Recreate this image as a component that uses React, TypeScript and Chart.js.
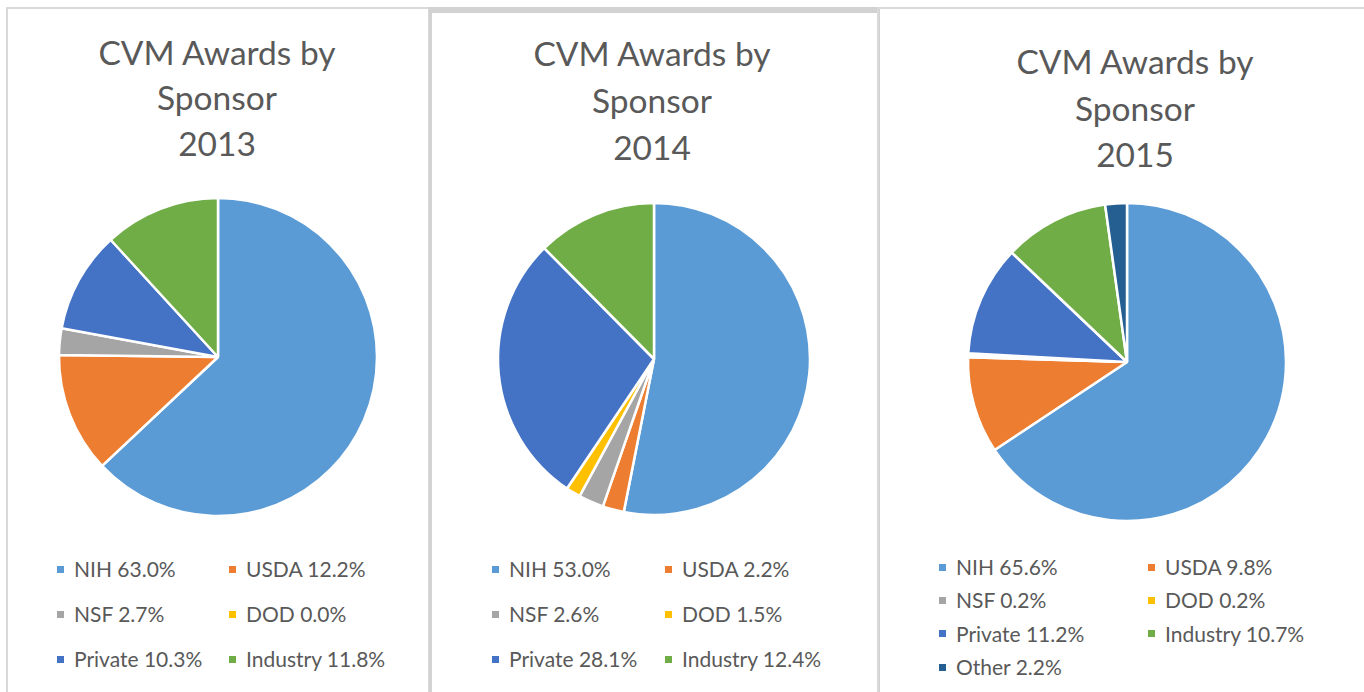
import React, { useEffect, useRef } from "react";
import { Chart, registerables } from "chart.js";

Chart.register(...registerables);

// ---------- data ----------
const categories2013 = ["NIH", "USDA", "NSF", "DOD", "Private", "Industry"];
const values2013 = [63.0, 12.2, 2.7, 0.0, 10.3, 11.8];

const categories2014 = ["NIH", "USDA", "NSF", "DOD", "Private", "Industry"];
const values2014 = [53.0, 2.2, 2.6, 1.5, 28.1, 12.4];

const categories2015 = ["NIH", "USDA", "NSF", "DOD", "Private", "Industry", "Other"];
const values2015 = [65.6, 9.8, 0.2, 0.2, 11.2, 10.7, 2.2];

const years = ["2013", "2014", "2015"];
const titlePrefix = ["CVM Awards by", "Sponsor"];

const sponsorColors = ["#5B9BD5", "#ED7D31", "#A5A5A5", "#FFC000", "#4472C4", "#70AD47", "#255E91"];

// ---------- layout (not data) ----------
type PanelLayout = {
  cx: number;
  cy: number;
  r: number;
  titleX: number;
  titleTop: number;
  titleLine: number;
  legendX: number;
  legendY: number;
  colGap: number;
  rowGap: number;
};

const layouts: PanelLayout[] = [
  { cx: 218, cy: 357, r: 159, titleX: 217, titleTop: 29.5, titleLine: 45.5, legendX: 57, legendY: 569, colGap: 172, rowGap: 45 },
  { cx: 654, cy: 359, r: 156, titleX: 652, titleTop: 29.5, titleLine: 47.2, legendX: 492, legendY: 569, colGap: 173, rowGap: 45 },
  { cx: 1127, cy: 362, r: 159, titleX: 1135, titleTop: 38.2, titleLine: 46.4, legendX: 939, legendY: 567, colGap: 209, rowGap: 33.4 },
];

const FONT = "Lato, 'Open Sans', sans-serif";
const TEXT_COLOR = "#595959";

function Pie({ labels, values, layout }: { labels: string[]; values: number[]; layout: PanelLayout }) {
  const ref = useRef<HTMLCanvasElement | null>(null);
  const size = layout.r * 2 + 10;
  useEffect(() => {
    if (!ref.current) return;
    const chart = new Chart(ref.current, {
      type: "pie",
      data: {
        labels,
        datasets: [
          {
            data: values,
            backgroundColor: sponsorColors.slice(0, values.length),
            borderColor: "#ffffff",
            borderWidth: 2.5,
          },
        ],
      },
      options: {
        responsive: false,
        animation: false,
        radius: layout.r,
        layout: { padding: 0 },
        plugins: {
          legend: { display: false },
          tooltip: { enabled: false },
          title: { display: false },
        },
      } as any,
    });
    return () => chart.destroy();
  }, []);
  return (
    <canvas
      ref={ref}
      width={size}
      height={size}
      style={{
        position: "absolute",
        left: layout.cx - size / 2,
        top: layout.cy - size / 2,
        width: size,
        height: size,
      }}
    />
  );
}

function Panel({ year, labels, values, layout }: { year: string; labels: string[]; values: number[]; layout: PanelLayout }) {
  const lines = [...titlePrefix, year];
  return (
    <>
      <div
        style={{
          position: "absolute",
          left: layout.titleX - 200,
          top: layout.titleTop,
          width: 400,
          textAlign: "center",
          fontFamily: FONT,
          fontSize: 33.5,
          lineHeight: layout.titleLine + "px",
          color: TEXT_COLOR,
          whiteSpace: "nowrap",
        }}
      >
        {lines.map((l, i) => (
          <div key={i}>{l}</div>
        ))}
      </div>
      <Pie labels={labels} values={values} layout={layout} />
      {labels.map((lab, i) => {
        const col = i % 2;
        const row = Math.floor(i / 2);
        return (
          <div
            key={lab}
            style={{
              position: "absolute",
              left: layout.legendX + col * layout.colGap,
              top: layout.legendY + row * layout.rowGap - 12,
              height: 24,
              display: "flex",
              alignItems: "center",
              fontFamily: FONT,
              fontSize: 21,
              lineHeight: "24px",
              color: TEXT_COLOR,
              whiteSpace: "nowrap",
            }}
          >
            <span
              style={{
                display: "inline-block",
                width: 7,
                height: 7,
                background: sponsorColors[i],
                marginRight: 10,
              }}
            />
            <span>{`${lab} ${values[i].toFixed(1)}%`}</span>
          </div>
        );
      })}
    </>
  );
}

export default function App() {
  const border = "#d9d9d9";
  return (
    <div
      style={{
        position: "absolute",
        left: 0,
        top: 0,
        width: 1364,
        height: 692,
        background: "#ffffff",
        overflow: "hidden",
      }}
    >
      {/* panel frames */}
      <div style={{ position: "absolute", left: 6, top: 7, width: 424, height: 720, boxSizing: "border-box", border: `2px solid ${border}` }} />
      <div style={{ position: "absolute", left: 429, top: 7, width: 451, height: 720, boxSizing: "border-box", border: `3px solid #d2d2d2`, borderTopWidth: 6 }} />
      <div style={{ position: "absolute", left: 877, top: 7, width: 500, height: 720, boxSizing: "border-box", border: `2px solid ${border}` }} />
      <Panel year={years[0]} labels={categories2013} values={values2013} layout={layouts[0]} />
      <Panel year={years[1]} labels={categories2014} values={values2014} layout={layouts[1]} />
      <Panel year={years[2]} labels={categories2015} values={values2015} layout={layouts[2]} />
    </div>
  );
}
